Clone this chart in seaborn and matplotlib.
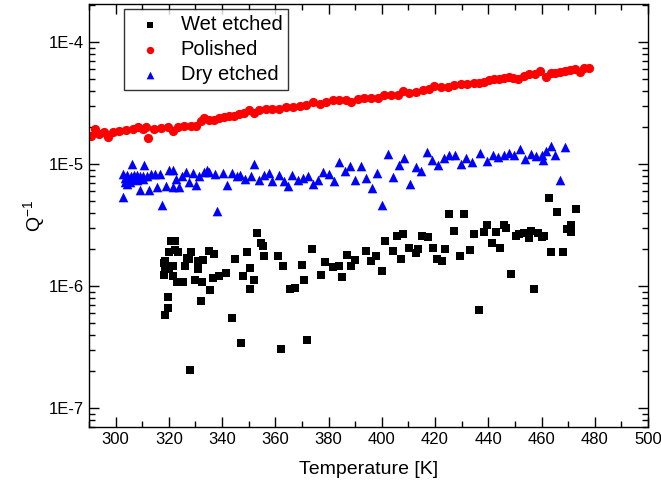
import matplotlib

matplotlib.use("Agg")
import matplotlib.pyplot as plt  # noqa: E402
import numpy as np  # noqa: E402
import pandas as pd  # noqa: E402
import seaborn as sns  # noqa: E402
from matplotlib.ticker import FuncFormatter, LogLocator, MultipleLocator  # noqa: E402

# Wet etched: temperature [K], Q^-1 in units of 1e-6
wet_t = [318.1, 318.3, 318.4, 318.4, 318.5, 319.6, 319.6, 320.0, 320.1, 320.7,
         321.4, 321.4, 322.3, 322.3, 323.0, 323.4, 325.2, 326.0, 326.7, 327.5,
         327.8, 328.5, 329.7, 330.8, 330.8, 331.9, 332.3, 332.9, 335.0, 335.3,
         336.5, 336.9, 338.7, 341.6, 343.6, 345.0, 347.0, 348.0, 349.5, 350.3,
         350.4, 351.8, 353.3, 354.5, 355.2, 355.6, 360.9, 362.2, 363.0, 365.6,
         367.5, 370.1, 370.9, 372.0, 373.9, 377.2, 378.5, 381.7, 383.8, 385.2,
         387.0, 388.6, 390.0, 394.1, 396.0, 397.8, 400.2, 401.3, 404.3, 405.8,
         407.1, 408.1, 410.3, 412.9, 413.7, 415.0, 417.4, 419.3, 420.9, 422.7,
         423.8, 425.2, 427.2, 429.3, 430.9, 433.1, 434.6, 436.5, 438.4, 439.4,
         441.4, 442.8, 444.3, 446.0, 446.6, 448.7, 450.4, 451.5, 453.3, 455.2,
         456.0, 457.3, 458.6, 460.1, 461.1, 462.7, 463.6, 466.0, 467.9, 469.4,
         470.9, 471.2, 472.8]
wet_q = [1.24, 1.55, 1.60, 0.575, 1.39, 0.81, 0.665, 1.92, 1.37, 2.36,
         1.47, 1.20, 2.36, 1.96, 1.09, 1.90, 1.09, 1.47, 1.71, 1.67,
         0.205, 1.90, 1.13, 1.62, 1.37, 0.76, 1.09, 1.65, 1.95, 0.92,
         1.17, 1.83, 1.22, 1.28, 0.55, 1.66, 0.34, 1.20, 1.92, 1.40,
         0.95, 1.13, 2.74, 2.27, 2.14, 1.75, 1.75, 0.307, 1.47, 0.94,
         0.97, 1.49, 1.13, 0.36, 2.03, 1.24, 1.59, 1.44, 1.47, 1.18,
         1.81, 1.46, 1.65, 1.95, 1.62, 1.78, 1.34, 2.35, 1.95, 2.57,
         1.67, 2.66, 2.07, 1.85, 2.00, 2.56, 2.52, 2.07, 1.66, 1.62,
         2.00, 3.90, 2.85, 1.78, 3.90, 1.99, 2.68, 0.64, 2.79, 3.14,
         2.27, 2.79, 2.07, 3.14, 3.00, 1.26, 2.56, 2.66, 2.74, 2.47,
         2.85, 0.95, 2.71, 2.54, 2.57, 5.30, 1.92, 4.07, 1.90, 2.95,
         3.19, 2.75, 4.30]

# Polished: Q^-1 in units of 1e-5
pol_t = [290.8, 292.1, 293.9, 295.8, 297.1, 299.0, 301.4, 303.9, 306.4, 308.3,
         310.2, 311.4, 312.3, 314.5, 317.0, 319.6, 321.4, 323.3, 325.8, 328.3,
         330.1, 332.0, 333.3, 335.1, 337.0, 338.9, 340.8, 342.6, 344.5, 346.4,
         348.2, 350.1, 352.0, 353.9, 356.4, 358.9, 361.3, 363.9, 366.6, 369.1,
         371.6, 374.1, 376.6, 379.1, 381.6, 384.1, 386.6, 388.5, 390.9, 393.4,
         395.9, 398.4, 400.9, 403.4, 405.9, 408.1, 410.3, 412.8, 415.3, 417.8,
         419.7, 422.2, 424.7, 427.2, 429.7, 432.1, 434.6, 436.5, 438.4, 440.3,
         442.1, 444.0, 445.9, 447.8, 449.3, 451.2, 453.4, 455.2, 457.7, 459.6,
         461.5, 463.4, 465.2, 467.1, 469.0, 470.8, 472.7, 474.6, 475.8, 477.7]
pol_q = [1.69, 1.92, 1.78, 1.82, 1.66, 1.82, 1.85, 1.89, 1.92, 2.00,
         1.92, 2.02, 1.63, 1.94, 1.96, 2.00, 1.85, 2.00, 2.04, 2.04,
         2.07, 2.24, 2.37, 2.28, 2.30, 2.37, 2.41, 2.50, 2.47, 2.55,
         2.60, 2.77, 2.60, 2.75, 2.80, 2.80, 2.80, 2.91, 2.96, 2.98,
         3.02, 3.20, 3.11, 3.20, 3.32, 3.38, 3.35, 3.23, 3.44, 3.48,
         3.51, 3.48, 3.65, 3.71, 3.71, 3.97, 3.82, 3.90, 4.04, 4.12,
         4.36, 4.32, 4.32, 4.44, 4.52, 4.56, 4.65, 4.65, 4.74, 4.92,
         4.97, 5.02, 5.06, 5.21, 5.11, 5.02, 5.31, 5.46, 5.51, 5.78,
         5.21, 5.56, 5.61, 5.73, 5.83, 5.94, 6.00, 5.67, 6.11, 6.17]

# Dry etched: Q^-1 in units of 1e-5
dry_t = [302.9, 302.9, 303.4, 303.7, 304.4, 304.4, 304.7, 305.4, 305.7, 306.3,
         306.9, 306.9, 307.9, 308.2, 309.1, 309.1, 310.2, 310.3, 310.7, 311.8,
         312.4, 313.4, 314.7, 315.5, 316.8, 317.6, 318.8, 320.1, 321.5, 321.5,
         322.5, 323.8, 325.0, 326.3, 327.6, 329.0, 330.2, 331.3, 333.1, 334.2,
         335.2, 337.3, 338.1, 340.5, 341.9, 343.7, 345.6, 346.9, 348.5, 350.7,
         352.1, 353.7, 355.9, 357.8, 358.9, 361.2, 363.2, 364.6, 366.4, 368.5,
         370.5, 372.4, 374.2, 376.1, 378.0, 380.0, 382.1, 384.0, 386.1, 388.1,
         390.1, 392.1, 394.2, 396.2, 398.1, 400.2, 402.3, 404.3, 406.6, 408.5,
         410.7, 412.8, 414.7, 416.9, 419.0, 421.2, 423.3, 425.4, 427.6, 429.9,
         431.8, 433.9, 436.9, 439.4, 441.6, 443.7, 445.8, 447.6, 449.7, 451.9,
         453.9, 456.0, 457.9, 460.1, 460.5, 461.5, 463.5, 465.1, 467.0, 468.7]
dry_q = [0.83, 0.54, 0.77, 0.71, 0.69, 0.82, 0.74, 0.71, 0.80, 1.00,
         0.815, 0.76, 0.815, 0.74, 0.80, 0.615, 0.75, 0.80, 0.98, 0.80,
         0.615, 0.83, 0.83, 0.65, 0.83, 0.46, 0.655, 0.895, 0.895, 0.65,
         0.755, 0.65, 0.795, 0.865, 0.715, 0.85, 0.67, 0.805, 0.865, 0.895,
         0.865, 0.835, 0.415, 0.85, 0.67, 0.84, 0.80, 0.815, 0.76, 0.80,
         0.995, 0.745, 0.81, 0.84, 0.724, 0.81, 0.724, 0.665, 0.81, 0.74,
         0.775, 0.80, 0.69, 0.74, 0.86, 0.825, 0.73, 1.04, 0.88, 0.965,
         0.74, 0.965, 0.77, 0.635, 0.85, 0.464, 1.20, 0.785, 0.985, 1.12,
         0.68, 0.94, 0.885, 1.25, 1.07, 0.99, 1.115, 1.185, 1.185, 1.00,
         1.115, 1.03, 1.225, 1.05, 1.185, 1.15, 1.195, 1.225, 1.195, 1.34,
         1.10, 1.22, 1.16, 1.185, 1.07, 1.27, 1.415, 1.18, 0.737, 1.37]

x_ticks = [300, 320, 340, 360, 380, 400, 420, 440, 460, 480, 500]

sns.set_style("ticks")
plt.rcParams["font.family"] = ["Liberation Sans", "DejaVu Sans"]
plt.rcParams["mathtext.fontset"] = "custom"
plt.rcParams["mathtext.rm"] = "Liberation Sans"
plt.rcParams["text.color"] = "black"
plt.rcParams["axes.labelcolor"] = "black"
plt.rcParams["xtick.color"] = "black"
plt.rcParams["ytick.color"] = "black"

frames = [
    pd.DataFrame({"T": wet_t, "Q": np.array(wet_q) * 1e-6, "Sample": "Wet etched"}),
    pd.DataFrame({"T": pol_t, "Q": np.array(pol_q) * 1e-5, "Sample": "Polished"}),
    pd.DataFrame({"T": dry_t, "Q": np.array(dry_q) * 1e-5, "Sample": "Dry etched"}),
]
styles = {
    "Wet etched": ("s", "#000000", 38),
    "Polished": ("o", "#ff0000", 44),
    "Dry etched": ("^", "#0000ff", 48),
}

fig = plt.figure(figsize=(6.61, 4.84), dpi=100)
ax = fig.add_axes([89 / 661, 1 - 427 / 484, 559 / 661, 423 / 484])

for df in frames:
    name = df["Sample"].iloc[0]
    marker, color, size = styles[name]
    sns.scatterplot(data=df, x="T", y="Q", marker=marker, color=color, s=size,
                    linewidth=0, label=name, ax=ax)

ax.set_yscale("log")
ax.set_xlim(290, 500)
ax.set_ylim(7e-8, 2.05e-4)
ax.set_xticks(x_ticks)
ax.xaxis.set_minor_locator(MultipleLocator(10))
ax.yaxis.set_major_locator(LogLocator(base=10))
ax.yaxis.set_minor_locator(LogLocator(base=10, subs=np.arange(2, 10)))
ax.yaxis.set_major_formatter(FuncFormatter(lambda v, _: f"1E{int(round(np.log10(v)))}"))
ax.tick_params(which="both", direction="in", top=True, right=True, labelsize=12,
               width=1.0)
ax.tick_params(which="major", length=7)
ax.tick_params(which="minor", length=4)
for sp in ax.spines.values():
    sp.set_linewidth(1.0)
    sp.set_color("black")

ax.set_xlabel("Temperature [K]", fontsize=14, labelpad=10)
ax.set_ylabel("Q$^{-1}$", fontsize=14, labelpad=1)

leg = ax.legend(loc="upper left", bbox_to_anchor=(0.063, 0.9875), borderaxespad=0,
                fontsize=14.5, frameon=True, fancybox=False, edgecolor="black",
                labelspacing=0.3, handletextpad=0.5, borderpad=0.3, markerscale=0.8)
leg.get_frame().set_linewidth(1.0)

fig.savefig("out.png", dpi=100)
